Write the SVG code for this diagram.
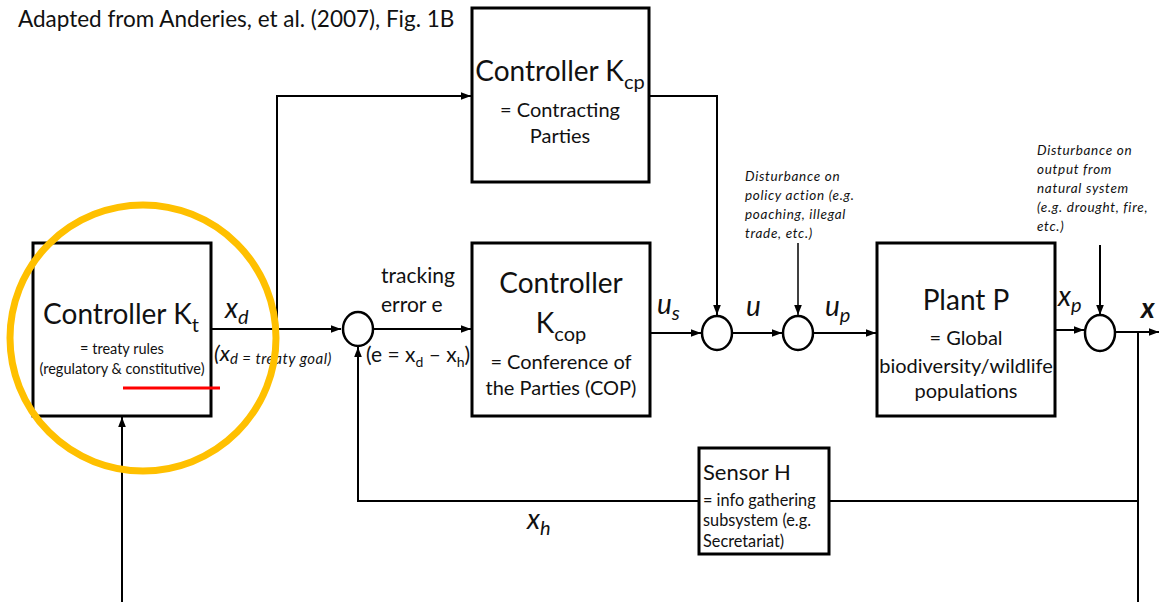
<svg xmlns="http://www.w3.org/2000/svg" width="1159" height="602" viewBox="0 0 1159 602">
<style>
text{font-family:Lato,"Open Sans","Liberation Sans",sans-serif;fill:#111}
.box{fill:#fff;stroke:#000;stroke-width:3}
.sum{fill:#fff;stroke:#000;stroke-width:2.5}
.ln{fill:none;stroke:#000;stroke-width:2}
.thin{fill:none;stroke:#000;stroke-width:1.5}
.title{font-size:28px}
.body{font-size:20px}
.small{font-size:14.5px}
.dist{font-size:13.5px;font-style:italic;letter-spacing:0.7px}
.var{font-size:28px;font-style:italic}
.sub{font-size:20px}
.mid{text-anchor:middle}
</style>
<defs>
<marker id="arr" markerUnits="userSpaceOnUse" markerWidth="10" markerHeight="10" viewBox="0 0 10 10" refX="10" refY="5" orient="auto">
<path d="M0,1.2 L10,5 L0,8.8 z" fill="#000"/>
</marker>
</defs>
<rect width="1159" height="602" fill="#fff"/>
<text x="18" y="27" style="font-size:22.5px">Adapted from Anderies, et al. (2007), Fig. 1B</text>

<g id="connectors">
<path class="ln" d="M211,329 H341" marker-end="url(#arr)"/>
<path class="ln" d="M277,329 V96 H471" marker-end="url(#arr)"/>
<path class="ln" d="M373,329 H471" marker-end="url(#arr)"/>
<path class="ln" d="M649,96 H717 V315" marker-end="url(#arr)"/>
<path class="ln" d="M650,333 H701" marker-end="url(#arr)"/>
<path class="ln" d="M732,333 H782" marker-end="url(#arr)"/>
<path class="thin" d="M798,243 V315" marker-end="url(#arr)"/>
<path class="ln" d="M813,333 H876" marker-end="url(#arr)"/>
<path class="ln" d="M1055,330 H1084" marker-end="url(#arr)"/>
<path class="ln" d="M1100,245 V315" marker-end="url(#arr)"/>
<path class="ln" d="M1115,332 H1159" marker-end="url(#arr)"/>
<path class="ln" d="M1138,332 V602"/>
<path class="ln" d="M1138,501 H829"/>
<path class="ln" d="M699,501 H358 V347" marker-end="url(#arr)"/>
<path class="ln" d="M122,602 V417" marker-end="url(#arr)"/>
</g>

<g id="node-kt">
<rect class="box" x="33" y="243" width="178" height="173"/>
<text x="121" y="324" class="title mid">Controller K<tspan dy="8" style="font-size:20px">t</tspan></text>
<text x="122" y="354" class="small mid">= treaty rules</text>
<text x="122" y="374" class="small mid">(regulatory &amp; constitutive)</text>
</g>

<g id="node-kcp">
<rect class="box" x="472" y="8" width="177" height="174"/>
<text x="560" y="81" class="title mid">Controller K<tspan dy="8" style="font-size:20px">cp</tspan></text>
<text x="560" y="117" class="body mid">= Contracting</text>
<text x="560" y="143" class="body mid">Parties</text>
</g>

<g id="node-kcop">
<rect class="box" x="472" y="243" width="178" height="173"/>
<text x="561" y="293" class="title mid">Controller</text>
<text x="561" y="333" class="title mid">K<tspan dy="8" style="font-size:20px">cop</tspan></text>
<text x="561" y="369" class="body mid">= Conference of</text>
<text x="561" y="395" class="body mid">the Parties (COP)</text>
</g>

<g id="node-plant">
<rect class="box" x="877" y="243" width="178" height="173"/>
<text x="966" y="310" class="title mid">Plant P</text>
<text x="966" y="345" class="body mid">= Global</text>
<text x="966" y="373" class="body mid">biodiversity/wildlife</text>
<text x="966" y="398" class="body mid">populations</text>
</g>

<g id="node-sensor">
<rect class="box" x="699" y="448" width="130" height="106"/>
<text x="703" y="480" style="font-size:22px">Sensor H</text>
<text x="703" y="506" style="font-size:16.3px">= info gathering</text>
<text x="703" y="526" style="font-size:16.3px">subsystem (e.g.</text>
<text x="703" y="547" style="font-size:16.3px">Secretariat)</text>
</g>

<g id="node-sum1"><ellipse class="sum" cx="358" cy="329" rx="15" ry="17"/></g>
<g id="node-sum2"><ellipse class="sum" cx="717" cy="333" rx="15" ry="17"/></g>
<g id="node-sum3"><ellipse class="sum" cx="798" cy="333" rx="15" ry="17"/></g>
<g id="node-sum4"><ellipse class="sum" cx="1100" cy="333" rx="15" ry="18"/></g>

<g id="labels">
<text x="225" y="318" class="var">x<tspan dy="6" class="sub">d</tspan></text>
<text x="214" y="361" style="font-size:22px;font-style:italic">(x<tspan dy="3" style="font-size:15px;letter-spacing:0.5px">d = treaty goal)</tspan></text>
<text x="381" y="283" style="font-size:21px">tracking</text>
<text x="381" y="312" style="font-size:21px">error e</text>
<text x="366" y="362" style="font-size:21px">(e = x<tspan dy="5" style="font-size:14px">d</tspan><tspan dy="-5"> – x</tspan><tspan dy="5" style="font-size:14px">h</tspan><tspan dy="-5">)</tspan></text>
<text x="657" y="314" class="var">u<tspan dy="6" class="sub">s</tspan></text>
<text x="746" y="316" class="var">u</text>
<text x="825" y="316" class="var">u<tspan dy="6" class="sub">p</tspan></text>
<text x="1058" y="306" class="var">x<tspan dy="6" class="sub">p</tspan></text>
<text x="1141" y="318" class="var" style="font-weight:bold">x</text>
<text x="527" y="529" class="var">x<tspan dy="6" class="sub">h</tspan></text>
<text x="745" y="181" class="dist">Disturbance on</text>
<text x="745" y="200" class="dist">policy action (e.g.</text>
<text x="745" y="219" class="dist">poaching, illegal</text>
<text x="745" y="238" class="dist">trade, etc.)</text>
<text x="1037" y="155" class="dist">Disturbance on</text>
<text x="1037" y="174" class="dist">output from</text>
<text x="1037" y="193" class="dist">natural system</text>
<text x="1037" y="212" class="dist">(e.g. drought, fire,</text>
<text x="1037" y="231" class="dist">etc.)</text>
</g>

<g id="highlight">
<circle cx="143" cy="338" r="133" fill="none" stroke="#FFC000" stroke-width="7"/>
<line x1="123" y1="388" x2="220" y2="388" stroke="#FF0000" stroke-width="3"/>
</g>
</svg>
